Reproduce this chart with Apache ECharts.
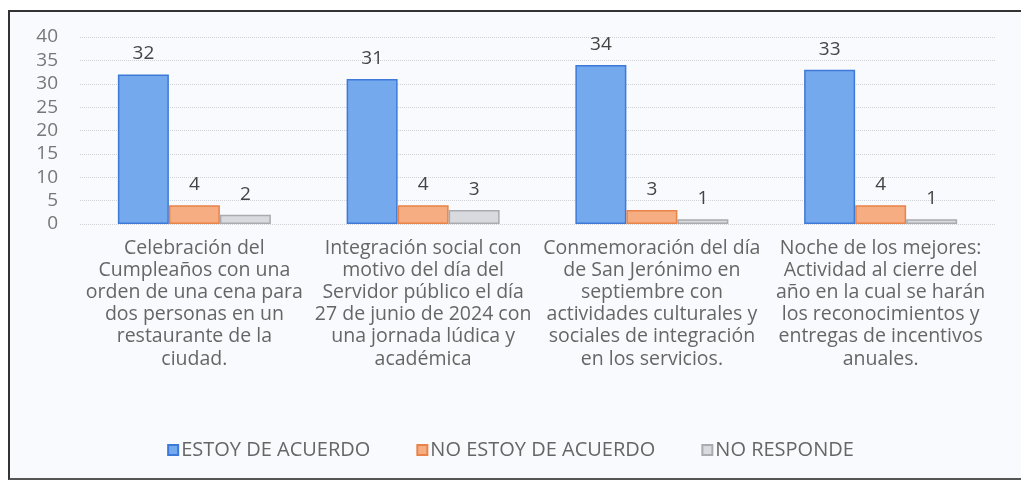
<!DOCTYPE html>
<html>
<head>
<meta charset="utf-8">
<script src="https://cdn.jsdelivr.net/npm/echarts@6/dist/echarts.min.js"></script>
<style>
  html, body { margin: 0; padding: 0; background: #fff; }
  #frame {
    position: absolute; left: 8px; top: 10px; width: 1013px; height: 470px;
    border-left: 2px solid #333; border-top: 2px solid #333; border-bottom: 2px solid #555;
    box-sizing: border-box; background: #f8fafd;
  }
  #chart { position: absolute; left: 0; top: 0; width: 1021px; height: 484px; }
</style>
</head>
<body>
<div id="frame"></div>
<div id="chart"></div>
<script>
const categories = [
  'Celebración del\nCumpleaños con una\norden de una cena para\ndos personas en un\nrestaurante de la\nciudad.',
  'Integración social con\nmotivo del día del\nServidor público el día\n27 de junio de 2024 con\nuna jornada lúdica y\nacadémica',
  'Conmemoración del día\nde San Jerónimo en\nseptiembre con\nactividades culturales y\nsociales de integración\nen los servicios.',
  'Noche de los mejores:\nActividad al cierre del\naño en la cual se harán\nlos reconocimientos y\nentregas de incentivos\nanuales.'
]
const deAcuerdo = [32, 31, 34, 33]
const noDeAcuerdo = [4, 4, 3, 4]
const noResponde = [2, 3, 1, 1]

const chart = echarts.init(document.getElementById('chart'))

const label = {
  show: true,
  position: 'top',
  distance: 11,
  fontSize: 19,
  color: '#444',
  fontFamily: 'Open Sans'
}

chart.setOption({
  backgroundColor: 'transparent',
  textStyle: { fontFamily: 'Open Sans' },
  grid: { left: 80, right: 26, top: 37, bottom: 260 },
  legend: {
    bottom: 19,
    left: 'center',
    itemWidth: 10,
    itemHeight: 10,
    itemGap: 46,
    icon: 'rect',
    textStyle: { fontSize: 20, color: '#666', fontFamily: 'Open Sans', padding: [0, 0, 0, -2] }
  },
  xAxis: {
    type: 'category',
    data: categories,
    axisLine: { show: false },
    axisTick: { show: false },
    axisLabel: {
      interval: 0,
      fontSize: 19.5,
      lineHeight: 22.2,
      color: '#666',
      margin: 13,
      align: 'center'
    }
  },
  yAxis: {
    type: 'value',
    min: 0,
    max: 40,
    interval: 5,
    axisLine: { show: false },
    axisTick: { show: false },
    axisLabel: { fontSize: 19, color: '#777', margin: 22 },
    splitLine: { lineStyle: { color: '#cfd2d6', type: 'dotted', width: 1 } }
  },
  series: [
    {
      name: 'ESTOY DE ACUERDO',
      type: 'bar',
      data: deAcuerdo,
      barWidth: 51,
      barGap: '0%',
      itemStyle: { color: '#74a9ee', borderColor: '#3d7ad8', borderWidth: 1.5 },
      label
    },
    {
      name: 'NO ESTOY DE ACUERDO',
      type: 'bar',
      data: noDeAcuerdo,
      barWidth: 51,
      barGap: '0%',
      itemStyle: { color: '#f6ad82', borderColor: '#e8834a', borderWidth: 1.5 },
      label
    },
    {
      name: 'NO RESPONDE',
      type: 'bar',
      data: noResponde,
      barWidth: 51,
      barGap: '0%',
      itemStyle: { color: '#d8dadf', borderColor: '#a9abae', borderWidth: 1.5 },
      label
    }
  ]
})
</script>
</body>
</html>
